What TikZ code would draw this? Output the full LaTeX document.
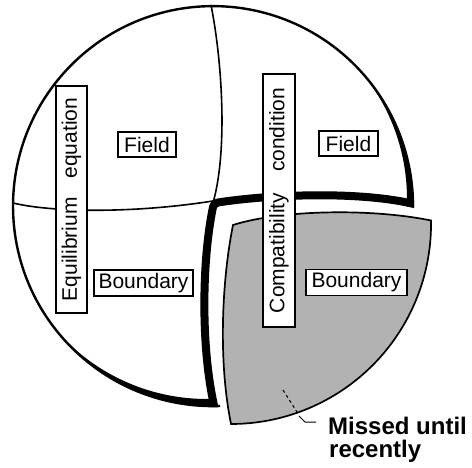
\documentclass[tikz,border=0pt]{standalone}
\usepackage{fontspec}
\setmainfont{Liberation Sans}
\begin{document}
\begin{tikzpicture}[x=1pt,y=-1pt,
  thinline/.style={line width=1.6pt},
  rim/.style={line width=2.4pt},
  band/.style={line width=8pt},
  lab/.style={draw, line width=1.2pt, fill=white, inner sep=0pt, font=\fontsize{21}{24}\selectfont},
  shade/.style={fill=black!30, line width=1.7pt, draw=black},
  big/.style={anchor=base west, inner sep=0pt, font=\fontsize{24}{24}\selectfont\bfseries}]
\useasboundingbox (0,0) rectangle (472,468);
% pulled-out piece
\path[shade] (233,225) .. controls (280,210) and (370,208) .. (431,220.5)
  arc[start angle=-1, end angle=90, radius=200]
  .. controls (218,360) and (222,280) .. (233,225) -- cycle;
% outer rim
\draw[rim] (220,406) arc[start angle=88, end angle=360, radius=200];
% thin cut lines
\draw[thinline] (211,5) .. controls (222,60) and (228,150) .. (213,203);
\draw[thinline] (13,203) .. controls (50,212) and (130,214) .. (213,201);
% shadow crescents
\begin{scope}
  \clip (213,206) circle[radius=200];
  \begin{scope}
    \clip (300,0) rectangle (480,207);
    \fill[even odd rule] (213,206) circle[radius=200] (207,199) circle[radius=200];
  \end{scope}
  \begin{scope}
    \clip (0,300) rectangle (214,480);
    \fill[even odd rule] (213,206) circle[radius=200] (207,199) circle[radius=200];
  \end{scope}
\end{scope}
% thick bands
\begin{scope}
  \clip (213,206) circle[radius=201.2];
  \draw[band, line join=round] (216,414) .. controls (200,350) and (202,260) .. (213,207)
    .. controls (214,204) and (215,203) .. (218,202.5)
    .. controls (265,195) and (360,190) .. (418,205);
\end{scope}
% labels
\node[lab, minimum width=58pt, minimum height=25pt] (f1) at (147,144.5) {Field};
\node[lab, minimum width=59pt, minimum height=25pt] (f2) at (348.5,143.5) {Field};
\node[lab, minimum width=99pt, minimum height=26pt] (b1) at (143.5,283) {Boundary};
\node[lab, minimum width=101pt, minimum height=26pt] (b2) at (356.5,282.5) {Boundary};
\node[lab, rotate=90, minimum width=227pt, minimum height=31pt] (eq) at (71.5,199.5) {Equilibrium\hspace{0.9em}equation};
\node[lab, rotate=90, minimum width=253pt, minimum height=32pt] (cc) at (279,200.5) {Compatibility\hspace{1em}condition};
% leader
\coordinate (l1) at (283,390);
\coordinate (l2) at (297,412);
\coordinate (l3) at (299,416);
\coordinate (l4) at (305,422);
\coordinate (l5) at (316,422);
\draw[line width=1pt, dash pattern=on 3pt off 3pt] (l1) -- (l2);
\draw[line width=1pt] (l3) -- (l4) -- (l5);
\node[big] (m1) at (328,434) {Missed until};
\node[big] (m2) at (329,457) {recently};
\end{tikzpicture}
\end{document}
